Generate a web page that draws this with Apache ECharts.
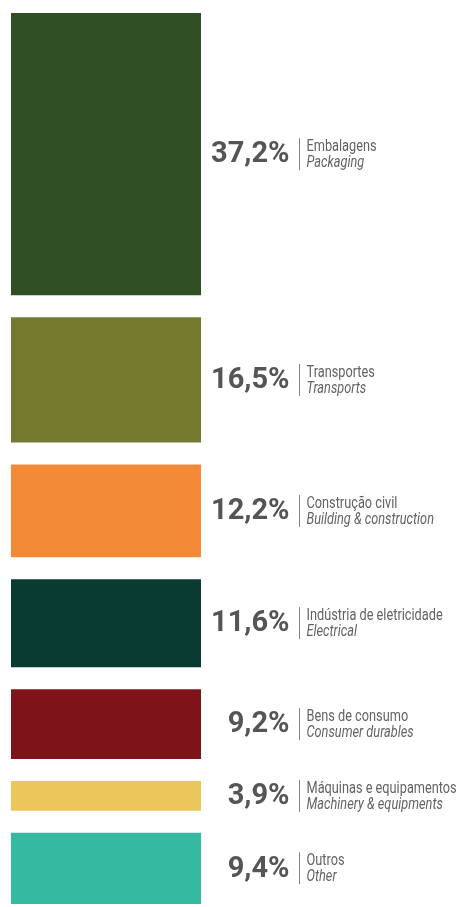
<!DOCTYPE html>
<html>
<head>
<meta charset="utf-8">
<script src="https://cdn.jsdelivr.net/npm/echarts@6/dist/echarts.min.js"></script>
<style>
  html, body { margin: 0; padding: 0; background: #ffffff; }
  #chart { width: 461px; height: 907px; }
</style>
</head>
<body>
<div id="chart"></div>
<script>
// ---- data ----
const namesPt = ['Embalagens', 'Transportes', 'Construção civil', 'Indústria de eletricidade', 'Bens de consumo', 'Máquinas e equipamentos', 'Outros'];
const namesEn = ['Packaging', 'Transports', 'Building & construction', 'Electrical', 'Consumer durables', 'Machinery & equipments', 'Other'];
const shares = [37.2, 16.5, 12.2, 11.6, 9.2, 3.9, 9.4];
const blockColors = ['#304f25', '#757a2f', '#f38a38', '#0a3b32', '#7e1419', '#ebc65a', '#35b9a0'];

// ---- build ----
const GAP = 22;
const rows = [];
let acc = 0;
shares.forEach(function (v, i) {
  rows.push([acc, acc + v, i]);
  acc += v;
});
const fmt = function (v) { return v.toFixed(1).replace('.', ',') + '%'; };

const chart = echarts.init(document.getElementById('chart'), null, { renderer: 'canvas' });
chart.setOption({
  backgroundColor: '#ffffff',
  animation: false,
  grid: { left: 11, top: 13, width: 190, height: 759 },
  xAxis: { type: 'value', min: 0, max: 1, show: false },
  yAxis: { type: 'value', min: 0, max: 100, inverse: true, show: false },
  series: [{
    type: 'custom',
    clip: false,
    data: rows,
    renderItem: function (params, api) {
      const i = api.value(2);
      const s = api.value(0), e = api.value(1);
      const p0 = api.coord([0, s]);
      const p1 = api.coord([1, e]);
      const x0 = p0[0], x1 = p1[0];
      const y0 = p0[1] + i * GAP, y1 = p1[1] + i * GAP;
      const cy = (y0 + y1) / 2;
      return {
        type: 'group',
        children: [
          { type: 'rect', shape: { x: x0, y: y0, width: x1 - x0, height: y1 - y0 }, style: { fill: blockColors[i] } },
          { type: 'text', x: x1 + 88.5, y: cy + 1, style: { text: fmt(shares[i]), align: 'right', verticalAlign: 'middle', font: 'bold 29px Roboto', fill: '#555557' } },
          { type: 'line', shape: { x1: x1 + 98.5, y1: cy - 16, x2: x1 + 98.5, y2: cy + 16 }, style: { stroke: '#808183', lineWidth: 1 } },
          { type: 'text', x: x1 + 105.5, y: cy - 7.5, scaleX: 0.75, style: { text: namesPt[i], align: 'left', verticalAlign: 'middle', font: '17px Roboto', fill: '#626365' } },
          { type: 'text', x: x1 + 105.5, y: cy + 8.5, scaleX: 0.75, style: { text: namesEn[i], align: 'left', verticalAlign: 'middle', font: 'italic 17px Roboto', fill: '#626365' } }
        ]
      };
    }
  }]
});
</script>
</body>
</html>
